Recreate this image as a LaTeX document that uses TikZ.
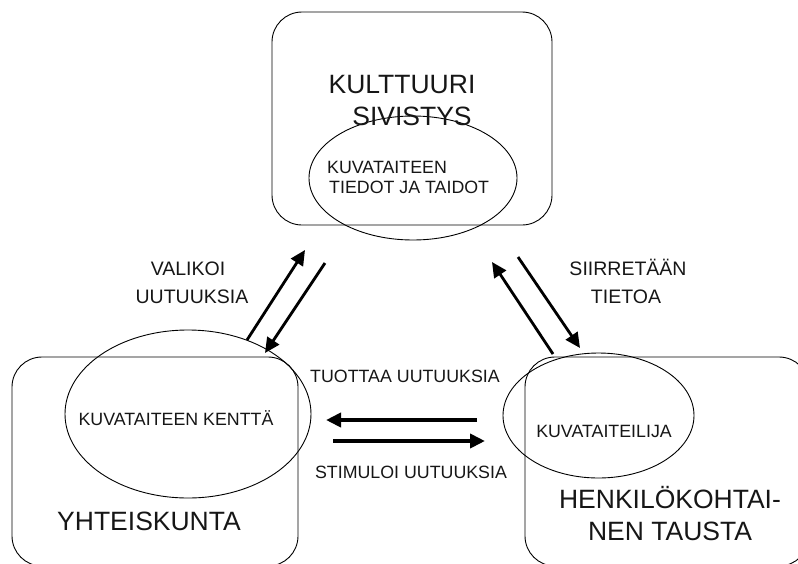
\documentclass[tikz,border=0pt]{standalone}
\usepackage{fontspec}
\setmainfont{Liberation Sans}
\usetikzlibrary{shapes.geometric,arrows.meta}
\definecolor{txt}{HTML}{161616}
\tikzset{
  box/.style={draw=black, line width=0.9pt, rounded corners=30pt, rectangle},
  oval/.style={draw=black, line width=0.9pt, ellipse, inner sep=0pt},
  big/.style={font=\fontsize{26.5}{30}\selectfont, text=txt, inner sep=0pt, anchor=base},
  mid/.style={font=\fontsize{19.5}{23}\selectfont, text=txt, inner sep=0pt, anchor=base},
  small/.style={font=\fontsize{17.8}{21}\selectfont, text=txt, inner sep=0pt, anchor=base},
  darr/.style={line width=2.8pt, -{Triangle[length=15pt,width=14pt]}},
  harr/.style={line width=4pt, -{Triangle[length=15pt,width=14pt]}},
}
\begin{document}
\begin{tikzpicture}[x=1pt,y=-1pt]
\useasboundingbox (0,0) rectangle (798,563);
\clip (0,0) rectangle (798,563);
% boxes
\draw[box] (272,12) rectangle (552,225);
\draw[box] (12,357) rectangle (298,566);
\draw[box] (525,357) rectangle (809,566);
% ellipses
\node[oval, minimum width=208pt, minimum height=124pt] (e1) at (413,178) {};
\node[oval, minimum width=246pt, minimum height=168pt] (e2) at (188,414) {};
\node[oval, minimum width=191pt, minimum height=125pt] (e3) at (598.5,415.5) {};
% texts
\node[big] (kult) at (402,93) {KULTTUURI};
\node[big] (sivi) at (412,125) {SIVISTYS};
\node[small, anchor=base west] (kuv1) at (327,173) {KUVATAITEEN};
\node[small, anchor=base west] (kuv2) at (329,193) {TIEDOT JA TAIDOT};
\node[mid] (val1) at (188,275) {VALIKOI};
\node[mid] (val2) at (192,303) {UUTUUKSIA};
\node[mid] (sii1) at (628,275) {SIIRRET\"A\"AN};
\node[mid] (sii2) at (626,303) {TIETOA};
\node[small] (kent) at (176,425) {KUVATAITEEN KENTT\"A};
\node[big] (yht) at (149,530) {YHTEISKUNTA};
\node[small] (tuo) at (405,382) {TUOTTAA UUTUUKSIA};
\node[small] (sti) at (411,478) {STIMULOI UUTUUKSIA};
\node[small] (kta) at (604,437) {KUVATAITEILIJA};
\node[big] (hen1) at (670,508) {HENKIL\"OKOHTAI-};
\node[big] (hen2) at (670,540) {NEN TAUSTA};
% arrow end points
\coordinate (a1s) at (247,340);
\coordinate (a1e) at (305,250);
\coordinate (a2s) at (325,263);
\coordinate (a2e) at (265,353);
\coordinate (a3s) at (553,354);
\coordinate (a3e) at (492,262);
\coordinate (a4s) at (518,257);
\coordinate (a4e) at (580,348);
\coordinate (a5s) at (477,420);
\coordinate (a5e) at (326,420);
\coordinate (a6s) at (333,441);
\coordinate (a6e) at (485,441);
\draw[darr] (a1s) -- (a1e);
\draw[darr] (a2s) -- (a2e);
\draw[darr] (a3s) -- (a3e);
\draw[darr] (a4s) -- (a4e);
\draw[harr] (a5s) -- (a5e);
\draw[harr] (a6s) -- (a6e);
\end{tikzpicture}
\end{document}
